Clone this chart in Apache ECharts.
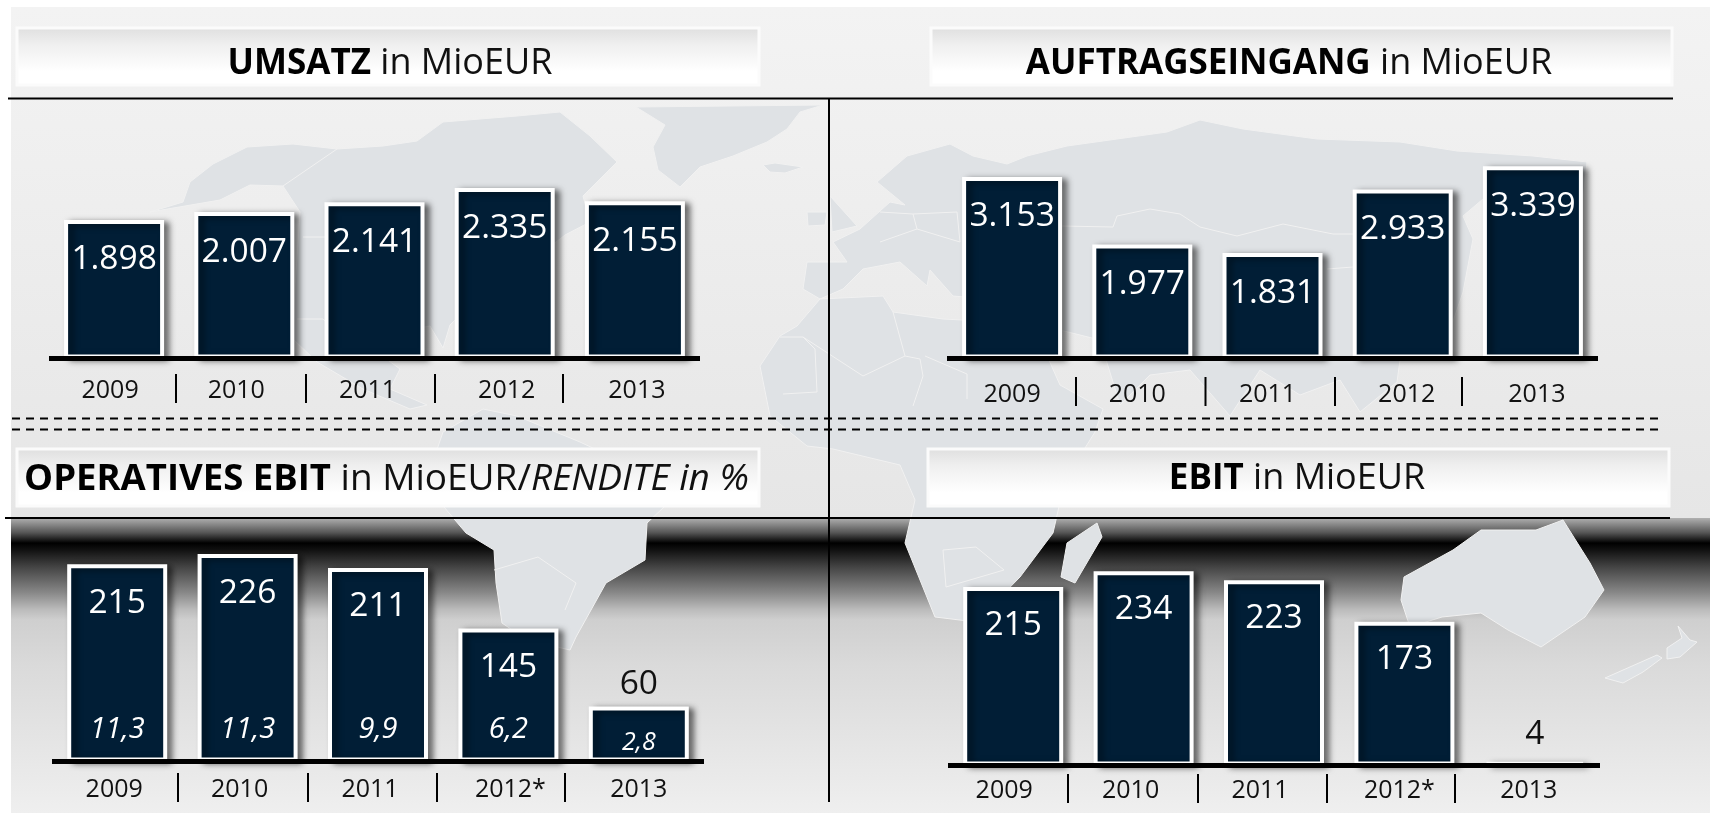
<!DOCTYPE html>
<html>
<head>
<meta charset="utf-8">
<title>Kennzahlen</title>
<style>
html,body{margin:0;padding:0;background:#fff;}
#container{width:1710px;height:814px;}
</style>
<script src="https://cdn.jsdelivr.net/npm/echarts@6/dist/echarts.min.js"></script>
</head>
<body>
<div id="container"></div>
<script>
// chart data
var years = ['2009', '2010', '2011', '2012', '2013'];
var yearsStar = ['2009', '2010', '2011', '2012*', '2013'];
var umsatz = [1898, 2007, 2141, 2335, 2155];
var auftragseingang = [3153, 1977, 1831, 2933, 3339];
var operativesEbit = [215, 226, 211, 145, 60];
var rendite = ['11,3', '11,3', '9,9', '6,2', '2,8'];
var ebit = [215, 234, 223, 173, 4];

var FONT = '"Open Sans", sans-serif';
var BAR = '#011e36';
var LAND = '#dfe2e5';

// layout of the four panels
var panels = [
	{ title: '{b|UMSATZ}{n| in MioEUR}', cats: years, vals: umsatz, max: 4000,
		left: 49, top: 66.5, width: 651, height: 292, margin: 20, yearTop: 374,
		shift: [-4, -8, -7, 2, 2], seps: [176, 306, 435, 563], box: [17, 28, 742, 57], labelDist: 23,
		titleX: 385, titleTop: 41, boldSize: 35, normalSize: 36 },
	{ title: '{b|AUFTRAGSEINGANG}{n| in MioEUR}', cats: years, vals: auftragseingang, max: 4000,
		left: 947, top: 128.1, width: 651, height: 230.4, margin: 24, yearTop: 377,
		shift: [0, -5, -5, 4, 4], seps: [1076, 1205.5, 1335, 1462], box: [931, 28, 741, 57], labelDist: 23,
		titleX: 1284, titleTop: 41, boldSize: 35, normalSize: 36 },
	{ title: '{b|OPERATIVES EBIT}{n| in MioEUR/}{i|RENDITE in %}', cats: yearsStar, vals: operativesEbit, max: 250,
		left: 52, top: 532.1, width: 652, height: 229.4, margin: 16, yearTop: 773,
		shift: [-3, -8, -8, 2, 0], seps: [178, 308, 437, 565], box: [17, 449, 742, 57], labelDist: 22, outDist: 5,
		titleX: 381.5, titleTop: 456, boldSize: 36.5, normalSize: 37 },
	{ title: '{b|EBIT}{n| in MioEUR}', cats: yearsStar, vals: ebit, max: 250,
		left: 948, top: 557.9, width: 652, height: 207.6, margin: 13, yearTop: 774,
		shift: [-9, -13, -14, -5, -6], seps: [1068, 1198, 1327, 1455], box: [928, 449, 741, 57], labelDist: 21, outDist: 10,
		titleX: 1292, titleTop: 456, boldSize: 35, normalSize: 36 }
];

// world map behind the charts, only a rough outline
var mapShapes = [
	[[150,212],[183,202],[190,182],[213,164],[247,147],[293,144],[337,149],[383,146],[417,141],[443,122],[517,116],[560,112],[590,136],[617,162],[583,196],[590,222],[565,235],[520,270],[480,295],[450,325],[443,348],[430,326],[395,332],[385,358],[400,369],[390,389],[427,405],[410,409],[363,389],[317,362],[293,339],[295,286],[300,212],[283,186],[250,185],[220,200]],
	[[636,107],[823,105],[800,112],[787,129],[767,142],[733,156],[700,167],[680,187],[658,170],[653,147],[665,125]],
	[[763,165],[775,163],[803,167],[785,173],[770,172]],
	[[830,196],[857,226],[832,232]],
	[[807,212],[827,212],[825,225],[808,226]],
	[[860,229],[890,202],[905,205],[877,182],[907,156],[950,144],[973,156],[1007,164],[1027,156],[1067,146],[1117,139],[1167,132],[1200,120],[1243,129],[1317,139],[1400,142],[1457,151],[1533,156],[1587,162],[1583,200],[1483,199],[1463,216],[1473,239],[1463,292],[1450,330],[1400,360],[1397,382],[1360,412],[1340,380],[1300,395],[1260,370],[1230,416],[1190,370],[1150,375],[1120,405],[1100,340],[1040,325],[1000,300],[953,296],[930,270],[927,286],[900,262],[863,269],[843,289],[820,299],[803,289],[807,262],[847,262],[833,242]],
	[[820,299],[883,296],[893,312],[943,319],[1000,322],[1040,340],[1060,385],[1103,409],[1095,432],[1065,480],[1053,533],[1020,577],[976,622],[935,617],[905,543],[915,500],[900,465],[833,449],[807,446],[770,416],[760,366],[780,336],[797,326]],
	[[443,432],[483,409],[517,416],[580,442],[640,470],[664,507],[647,523],[645,560],[606,583],[576,637],[570,650],[527,640],[502,623],[496,583],[494,550],[466,533],[444,507],[430,470]],
	[[1097,523],[1102,537],[1075,583],[1061,577],[1067,543]],
	[[1404,577],[1453,550],[1481,530],[1536,530],[1563,520],[1590,563],[1604,590],[1585,617],[1541,647],[1508,630],[1481,613],[1442,617],[1410,627],[1401,600]],
	[[1605,678],[1657,655],[1662,658],[1643,672],[1623,683]],
	[[1678,626],[1690,640],[1697,642],[1680,657],[1667,659],[1667,648],[1682,638]]
];

// a few of the country borders
var mapBorders = [
	[[803,337],[863,376],[905,356],[893,312]],
	[[905,356],[920,359],[923,376],[913,406]],
	[[925,356],[967,374],[967,399]],
	[[780,337],[803,337],[815,349],[817,392],[783,394]],
	[[880,212],[913,214],[917,229],[880,242]],
	[[913,214],[957,212],[960,242],[917,229]],
	[[1062,226],[1113,227],[1117,216],[1150,209],[1180,214],[1200,227],[1237,236],[1283,224],[1333,234],[1353,234]],
	[[1327,269],[1353,267]],
	[[283,186],[337,149]],
	[[303,237],[330,237]],
	[[297,319],[323,319],[350,344]],
	[[943,550],[946,587],[1004,570],[976,547],[943,550]],
	[[494,570],[538,557],[576,583],[565,610]]
];

function dotted(v) {
	return String(v).replace(/(\d)(\d{3})$/, '$1.$2');
}

function line(x1, y1, x2, y2, w, dash) {
	return {
		type: 'line', silent: true, z: 1,
		shape: { x1: x1, y1: y1, x2: x2, y2: y2 },
		style: { stroke: '#000', lineWidth: w, lineDash: dash || null }
	};
}

function vGrad(stops) {
	return {
		type: 'linear', x: 0, y: 0, x2: 0, y2: 1,
		colorStops: stops.map(function (s) { return { offset: s[0], color: s[1] }; })
	};
}

var graphics = [
	{ type: 'rect', silent: true, z: -100, shape: { x: 11, y: 7, width: 1699, height: 511 },
		style: { fill: vGrad([[0, '#f3f3f3'], [1, '#e6e6e6']]) } },
	{ type: 'rect', silent: true, z: -100, shape: { x: 11, y: 518, width: 1699, height: 295 },
		style: { fill: vGrad([[0, '#b0b0b0'], [0.05, '#555555'], [0.085, '#000000'], [0.108, '#111111'], [0.166, '#444444'], [0.253, '#888888'], [0.31, '#bbbbbb'], [0.345, '#cfcfcf'], [0.5, '#dadada'], [1, '#efefef']]) } }
];
mapShapes.forEach(function (pts) {
	graphics.push({ type: 'polygon', silent: true, z: -90, shape: { points: pts },
		style: { fill: LAND, stroke: '#f1f1f1', lineWidth: 1 } });
});
mapBorders.forEach(function (pts) {
	graphics.push({ type: 'polyline', silent: true, z: -89, shape: { points: pts },
		style: { fill: null, stroke: '#f1f1f1', lineWidth: 1 } });
});
graphics.push(line(8, 98.5, 1673, 98.5, 2));
graphics.push(line(5, 518, 1670, 518, 2));
graphics.push(line(829, 99, 829, 802, 2));
graphics.push(line(12, 418.5, 1660, 418.5, 2, [8, 6]));
graphics.push(line(12, 429.5, 1660, 429.5, 2, [8, 6]));

var titles = [], grids = [], xAxes = [], yAxes = [], seriesList = [];

panels.forEach(function (p, n) {
	// header box with the grey fade at its top
	graphics.push({ type: 'rect', silent: true, z: -50,
		shape: { x: p.box[0], y: p.box[1], width: p.box[2], height: p.box[3] },
		style: { fill: vGrad([[0, '#dedede'], [0.3, '#efefef'], [0.75, '#ffffff'], [1, '#ffffff']]), stroke: '#fbfbfb', lineWidth: 3 } });
	titles.push({
		text: p.title, left: p.titleX, top: p.titleTop, textAlign: 'center',
		textStyle: { fontWeight: 'normal', rich: {
			b: { fontFamily: FONT, fontSize: p.boldSize, fontWeight: 'bold', color: '#000' },
			n: { fontFamily: FONT, fontSize: p.normalSize, fontWeight: 'normal', color: '#111' },
			i: { fontFamily: FONT, fontSize: p.normalSize, fontWeight: 'normal', fontStyle: 'italic', color: '#111' }
		} }
	});

	// separators between the years
	p.seps.forEach(function (x) {
		graphics.push(line(x, p.yearTop, x, p.yearTop + 29, 2));
	});

	grids.push({ left: p.left, top: p.top, width: p.width, height: p.height, containLabel: false, outerBoundsMode: 'none' });

	var rich = {};
	p.shift.forEach(function (s, i) {
		rich['y' + i] = {
			fontFamily: FONT, fontSize: 25, color: '#111',
			padding: [0, s < 0 ? -2 * s : 0, 0, s > 0 ? 2 * s : 0]
		};
	});
	xAxes.push({
		type: 'category', gridIndex: n, data: p.cats, z: 5,
		axisLine: { lineStyle: { color: '#000', width: 5, cap: 'butt' } },
		axisTick: { show: false },
		axisLabel: {
			interval: 0, margin: p.margin, rich: rich,
			formatter: function (v, i) { return '{y' + i + '|' + v + '}'; }
		}
	});
	yAxes.push({ type: 'value', gridIndex: n, min: 0, max: p.max, show: false });

	seriesList.push({
		type: 'bar', xAxisIndex: n, yAxisIndex: n, barWidth: 100, silent: true,
		itemStyle: { color: BAR, borderColor: '#fff', borderWidth: 4, shadowColor: 'rgba(0,0,0,0.5)', shadowBlur: 6, shadowOffsetX: 5, shadowOffsetY: 2 },
		label: { show: true, position: 'insideTop', distance: p.labelDist, fontFamily: FONT, fontSize: 33.5, color: '#fff',
			formatter: function (o) { return dotted(o.value); } },
		data: p.vals.map(function (v) {
			if (v >= 100) return v;
			return { value: v, label: { position: 'top', distance: p.outDist, color: '#111' } };
		})
	});

	if (n === 2) {
		// margin in italics sits at the foot of the same bars
		seriesList.push({
			type: 'bar', xAxisIndex: n, yAxisIndex: n, barWidth: 100, barGap: '-100%', silent: true,
			itemStyle: { color: 'transparent' },
			label: { show: true, position: 'insideBottom', distance: 17, fontFamily: FONT, fontSize: 29, fontStyle: 'italic', color: '#fff',
				formatter: function (o) { return rendite[o.dataIndex]; } },
			data: p.vals.map(function (v, i) {
				if (i < 4) return v;
				return { value: v, label: { fontSize: 25, distance: 6 } };
			})
		});
	}
});

var myChart = echarts.init(document.getElementById('container'));
var option = {
	animation: false,
	backgroundColor: '#fff',
	title: titles,
	tooltip: { show: false },
	graphic: { elements: graphics },
	grid: grids,
	xAxis: xAxes,
	yAxis: yAxes,
	series: seriesList
};
myChart.setOption(option);
</script>
</body>
</html>
